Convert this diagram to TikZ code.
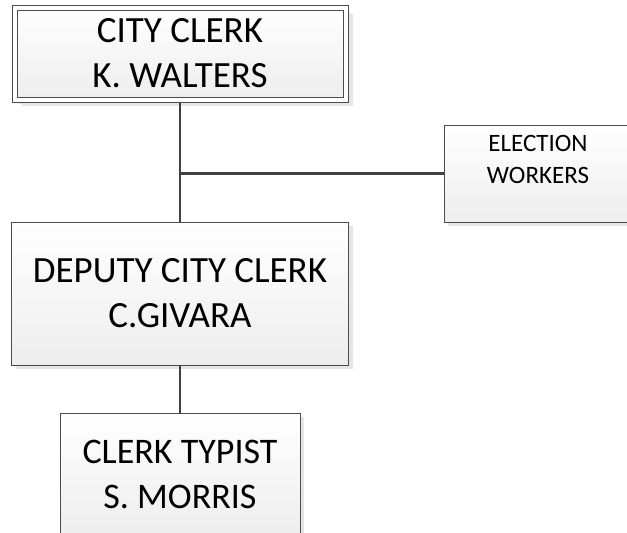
\documentclass[tikz,border=0pt]{standalone}
\usepackage{fontspec}
\setmainfont{Carlito}
\usepackage{tikz}
\usetikzlibrary{positioning,shadows}

\begin{document}
\begin{tikzpicture}[x=1pt, y=-1pt, every node/.style = {shape=rectangle, align=center, outer sep=0pt}]
	\tikzset{
		box/.style = {
			draw=black!70, line width=1pt,
			top color=white, bottom color=black!7,
			drop shadow={shadow xshift=4pt, shadow yshift=-4pt, fill=black!10, opacity=1}
		}
	}
	\tikzset{ bigtext/.style = { font=\fontsize{37}{45}\selectfont } }
	\tikzset{ smalltext/.style = { font=\fontsize{25}{32}\selectfont } }
	\tikzset{ link/.style = { draw=black!75, line width=2.5pt } }

	\useasboundingbox (0,0) rectangle (627,533);
	\clip (0,0) rectangle (627,533);

	\node [box, double=white, double distance=4pt, minimum width=331pt, minimum height=92pt,
		drop shadow={shadow xshift=7pt, shadow yshift=-6.5pt, fill=black!10, opacity=1}, bigtext]
		(clerk) at (180,53.5) {CITY CLERK\\K. WALTERS};
	\node [box, minimum width=337pt, minimum height=143pt, bigtext, below=122.5pt of clerk]
		(deputy) {DEPUTY CITY CLERK\\C.GIVARA};
	\node [box, minimum width=240pt, minimum height=122pt, bigtext, font=\fontsize{36}{45}\selectfont, below=48pt of deputy]
		(typist) {CLERK TYPIST\\S. MORRIS};
	\node [box, minimum width=188pt, minimum height=97pt,
		label={[smalltext, anchor=north, inner sep=0pt, yshift=-10pt]north:ELECTION\\WORKERS}]
		(election) at (538,173.5) {};

	% lines between the boxes
	\coordinate (fork) at (clerk.south |- election.west);
	\draw [link, shorten <=3pt] (clerk.south) -- (deputy.north);
	\draw [link] (fork) -- (election.west);
	\draw [link] (deputy.south) -- (typist.north);
\end{tikzpicture}
\end{document}
